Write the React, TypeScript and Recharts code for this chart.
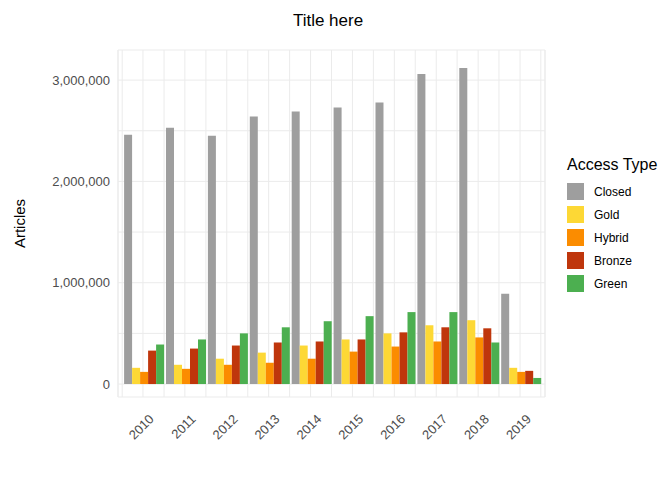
import React from 'react';
import { BarChart, Bar, XAxis, YAxis, CartesianGrid } from 'recharts';

const years = ['2010','2011','2012','2013','2014','2015','2016','2017','2018','2019'];
const closed = [2460000,2530000,2450000,2640000,2690000,2730000,2780000,3060000,3120000,890000];
const gold = [160000,190000,250000,310000,380000,440000,500000,580000,630000,160000];
const hybrid = [120000,150000,190000,210000,250000,320000,370000,420000,460000,120000];
const bronze = [330000,350000,380000,410000,420000,440000,510000,560000,550000,130000];
const green = [390000,440000,500000,560000,620000,670000,710000,710000,410000,60000];
const yTicks = [0,500000,1000000,1500000,2000000,2500000,3000000];
const boundaryTicks = [0.5,1.5,2.5,3.5,4.5,5.5,6.5,7.5,8.5,9.5,10.5];

const series = [
  { key: 'Closed', color: '#9e9e9e' },
  { key: 'Gold', color: '#fdd835' },
  { key: 'Hybrid', color: '#fb8c00' },
  { key: 'Bronze', color: '#bf360c' },
  { key: 'Green', color: '#4caf50' },
];

const data = years.map((y, i) => ({
  year: y, n: i + 1, Closed: closed[i], Gold: gold[i], Hybrid: hybrid[i], Bronze: bronze[i], Green: green[i],
}));

const fmt = (v: number) => (v % 1000000 === 0 ? v.toLocaleString('en-US') : '');

const XTick = (props: any) => {
  const { x, y, payload } = props;
  return (
    <text x={x + 5} y={y + 8} transform={`rotate(-45 ${x + 5} ${y + 8})`} textAnchor="end" fontSize={13} fill="#4d4d4d" dominantBaseline="hanging">
      {payload.value}
    </text>
  );
};

export default function App() {
  return (
    <div style={{ position: 'absolute', left: 0, top: 0, width: 672, height: 480, fontFamily: 'Liberation Sans, Arial, sans-serif' }}>
      <div style={{ position: 'absolute', top: 11, left: 0, width: 656, textAlign: 'center', fontSize: 17, color: '#000' }}>Title here</div>
      <div style={{ position: 'absolute', left: 567, top: 156 }}>
        <div style={{ fontSize: 16, color: '#000', marginBottom: 6 }}>Access Type</div>
        {series.map(s => (
          <div key={s.key} style={{ display: 'flex', alignItems: 'center', height: 23 }}>
            <div style={{ width: 17, height: 17, background: s.color, marginRight: 10 }} />
            <span style={{ fontSize: 12, color: '#000' }}>{s.key}</span>
          </div>
        ))}
      </div>
      <BarChart width={672} height={480} data={data} margin={{ top: 50, right: 127, bottom: 0, left: 8 }} barCategoryGap="5%" barGap={0}>
        <CartesianGrid stroke="#ebebeb" vertical={true} />
        <CartesianGrid stroke="#ebebeb" horizontal={false} xAxisId="n" />
        <XAxis dataKey="year" padding={{ left: 4, right: 4 }} tick={<XTick />} tickLine={false} axisLine={false} height={83} interval={0} />
        <XAxis xAxisId="n" type="number" dataKey="n" domain={[0.4, 10.6]} ticks={boundaryTicks} hide allowDataOverflow />
        <YAxis domain={[-128000, 3297000]} ticks={yTicks} tickFormatter={fmt} width={110} tickLine={false} axisLine={false}
          tick={{ fontSize: 13, fill: '#4d4d4d' }} allowDataOverflow
          label={{ value: 'Articles', angle: -90, position: 'insideLeft', offset: 12, style: { fontSize: 15, fill: '#000', textAnchor: 'middle' } }} />
        {series.map(s => (
          <Bar key={s.key} dataKey={s.key} fill={s.color} isAnimationActive={false} />
        ))}
      </BarChart>
    </div>
  );
}
